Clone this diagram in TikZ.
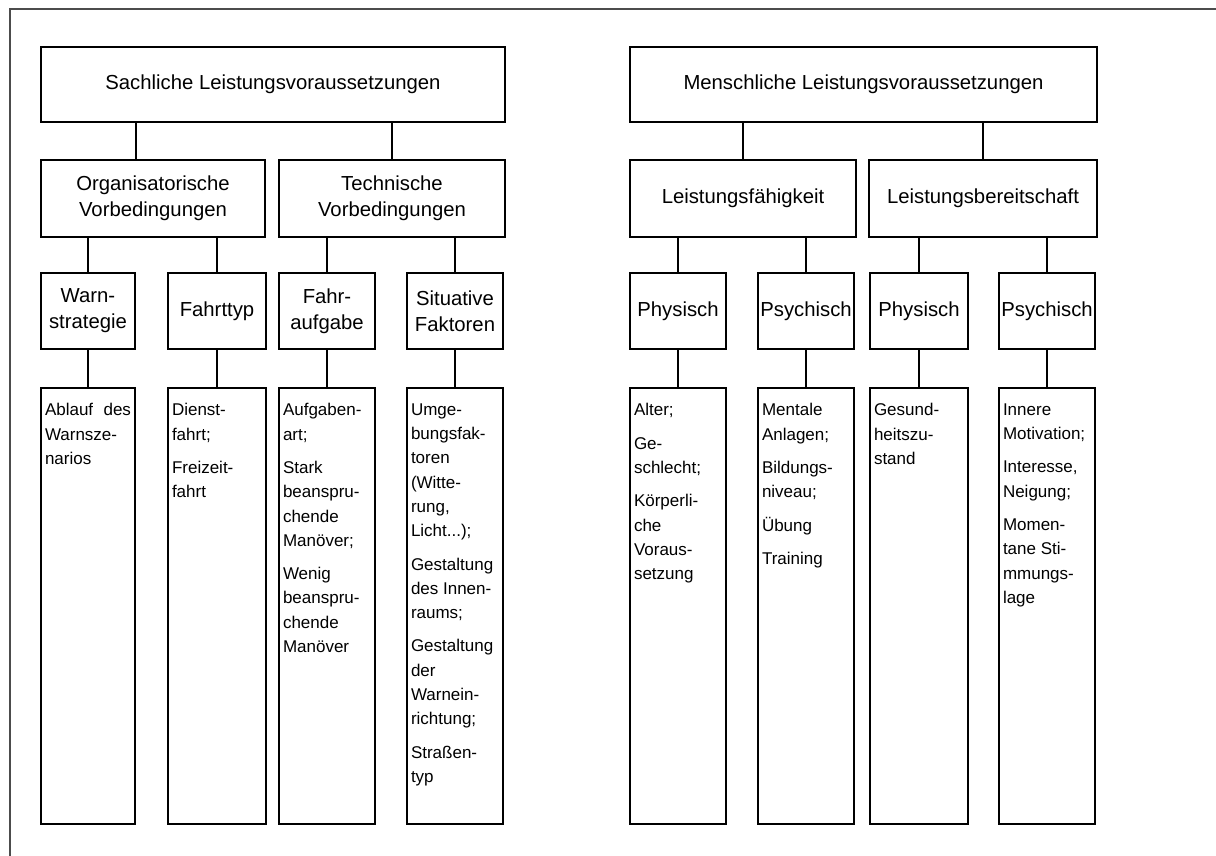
\documentclass[tikz,border=0pt]{standalone}
\usepackage{fontspec}
\setmainfont{Liberation Sans}

% Text column inside a detail box: fixed height, top aligned, manual line breaks
\newcommand{\itemcol}[2]{%
  \begin{minipage}[t][436bp][t]{#1}%
    \fontsize{17bp}{24.3bp}\selectfont
    \setlength{\parskip}{9bp}\rightskip=0pt plus 1fil\hyphenpenalty=10000
    \vspace*{15.5bp}#2%
  \end{minipage}}

\begin{document}
\begin{tikzpicture}[x=1bp,y=-1bp,
  box/.style={draw, line width=2bp, inner sep=0pt, align=center,
    font=\fontsize{20.3bp}{26bp}\selectfont},
  headbox/.style={box, minimum height=75bp},
  midbox/.style={box, minimum height=77bp},
  leafbox/.style={box, minimum height=76bp},
  detail/.style={draw, line width=2bp, inner xsep=4bp, inner ysep=0pt, anchor=north},
  link/.style={line width=2bp}]
\useasboundingbox (0,0) rectangle (1216,856);

% outer frame
\draw[line width=1.5bp, black!70] (10,856) -- (10,9) -- (1216,9);

% top level
\node[headbox, minimum width=464bp] (sach) at (273,84.5) {Sachliche Leistungsvoraussetzungen};
\node[headbox, minimum width=467bp] (mensch) at (863.5,84.5) {Menschliche Leistungsvoraussetzungen};

% second level
\node[midbox, minimum width=224bp] (org) at (153,198.5) {Organisatorische\\Vorbedingungen};
\node[midbox, minimum width=226bp] (tech) at (392,198.5) {Technische\\Vorbedingungen};
\node[midbox, minimum width=226bp] (faeh) at (743,198.5) {Leistungsfähigkeit};
\node[midbox, minimum width=228bp] (bereit) at (983,198.5) {Leistungsbereitschaft};

% third level
\node[leafbox, minimum width=94bp] (warn) at (88,311) {Warn-\\strategie};
\node[leafbox, minimum width=98bp] (typ) at (217,311) {Fahrttyp};
\node[leafbox, minimum width=96bp] (aufg) at (327,311) {Fahr-\\aufgabe};
\node[leafbox, minimum width=96bp] (sit) at (455,311) {Situative\\Faktoren};
\node[leafbox, minimum width=96bp] (phyA) at (678,311) {Physisch};
\node[leafbox, minimum width=96bp] (psyA) at (806,311) {Psychisch};
\node[leafbox, minimum width=98bp] (phyB) at (919,311) {Physisch};
\node[leafbox, minimum width=96bp] (psyB) at (1047,311) {Psychisch};

% detail columns
\node[detail] (warnD) at (88,387) {\itemcol{86bp}{Ablauf\hfill des\newline Warnsze-\newline narios}};
\node[detail] (typD) at (217,387) {\itemcol{90bp}{Dienst-\newline fahrt;\par Freizeit-\newline fahrt}};
\node[detail] (aufgD) at (327,387) {\itemcol{88bp}{Aufgaben-\newline art;\par Stark\newline beanspru-\newline chende\newline Manöver;\par Wenig\newline beanspru-\newline chende\newline Manöver}};
\node[detail] (sitD) at (455,387) {\itemcol{88bp}{Umge-\newline bungsfak-\newline toren\newline (Witte-\newline rung,\newline Licht...);\par Gestaltung\newline des Innen-\newline raums;\par Gestaltung\newline der\newline Warnein-\newline richtung;\par Straßen-\newline typ}};
\node[detail] (phyAD) at (678,387) {\itemcol{88bp}{Alter;\par Ge-\newline schlecht;\par Körperli-\newline che\newline Voraus-\newline setzung}};
\node[detail] (psyAD) at (806,387) {\itemcol{88bp}{Mentale\newline Anlagen;\par Bildungs-\newline niveau;\par Übung\par Training}};
\node[detail] (phyBD) at (919,387) {\itemcol{90bp}{Gesund-\newline heitszu-\newline stand}};
\node[detail] (psyBD) at (1047,387) {\itemcol{88bp}{Innere\newline Motivation;\par Interesse,\newline Neigung;\par Momen-\newline tane Sti-\newline mmungs-\newline lage}};

% connectors: top to second level
\draw[link] ([xshift=-17bp]org.north) -- ([xshift=-17bp]org.north |- sach.south);
\draw[link] (tech.north) -- (tech.north |- sach.south);
\draw[link] (faeh.north) -- (faeh.north |- mensch.south);
\draw[link] (bereit.north) -- (bereit.north |- mensch.south);

% connectors: second to third level
\foreach \child/\parent in {warn/org, typ/org, aufg/tech, sit/tech,
                            phyA/faeh, psyA/faeh, phyB/bereit, psyB/bereit}
  \draw[link] (\child.north) -- (\child.north |- \parent.south);

% connectors: third level to detail columns
\foreach \n in {warn, typ, aufg, sit, phyA, psyA, phyB, psyB}
  \draw[link] (\n D.north) -- (\n.south);
\end{tikzpicture}
\end{document}
